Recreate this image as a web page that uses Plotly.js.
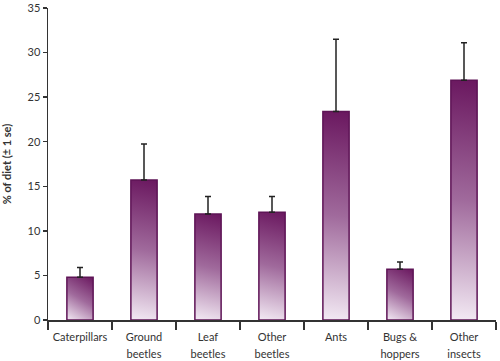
<!DOCTYPE html>
<html>
<head>
<meta charset="utf-8">
<script src="https://cdn.plot.ly/plotly-3.0.1.min.js"></script>
<style>
html,body{margin:0;padding:0;background:#fff;}
#chart{width:500px;height:361px;}
</style>
</head>
<body>
<div id="chart"></div>
<script>
var categories = ["Caterpillars", "Ground<br>beetles", "Leaf<br>beetles", "Other<br>beetles", "Ants", "Bugs &<br>hoppers", "Other<br>insects"];
var dietPercent = [4.8, 15.7, 11.9, 12.1, 23.4, 5.7, 26.9];
var seUpper = [1.1, 4.05, 1.95, 1.75, 8.1, 0.8, 4.2];
var seLower = [0, 0, 0, 0, 0, 0, 0];
var yTickVals = [0, 5, 10, 15, 20, 25, 30, 35];

var font = "Lato, 'Open Sans', sans-serif";

var trace = {
  type: "bar",
  x: categories,
  y: dietPercent,
  width: 0.41,
  marker: {color: "#9c5f96", line: {color: "#5e1456", width: 1.5}},
  error_y: {type: "data", symmetric: false, array: seUpper, arrayminus: seLower,
            color: "#222", thickness: 1.5, width: 3},
  hoverinfo: "none"
};

var layout = {
  width: 500, height: 361,
  margin: {l: 48, r: 4, t: 8, b: 41},
  paper_bgcolor: "#fff", plot_bgcolor: "#fff",
  showlegend: false,
  font: {family: font, size: 11, color: "#333"},
  xaxis: {
    type: "category",
    tickson: "boundaries",
    tickangle: 0,
    ticklabelstandoff: 6,
    ticks: "outside", ticklen: 8, tickwidth: 1.5, tickcolor: "#333",
    showline: true, linecolor: "#333", linewidth: 1.5,
    showgrid: false, zeroline: false,
    tickfont: {family: font, size: 11, color: "#333"},
    range: [-0.5, 6.5]
  },
  yaxis: {
    range: [0, 35],
    tickvals: yTickVals,
    ticktext: yTickVals.map(String),
    ticks: "outside", ticklen: 4, tickwidth: 1.5, tickcolor: "#333",
    showline: true, linecolor: "#333", linewidth: 1.5,
    showgrid: false, zeroline: false,
    tickfont: {family: font, size: 11, color: "#333"},
    title: {text: "% of diet (± 1 se)", font: {family: font, size: 11, color: "#333", weight: "bold"}, standoff: 14}
  }
};

Plotly.newPlot("chart", [trace], layout, {displayModeBar: false, staticPlot: true}).then(function(gd){
  var svg = gd.querySelector("svg.main-svg");
  var ns = "http://www.w3.org/2000/svg";
  var defs = svg.querySelector("defs") || svg.insertBefore(document.createElementNS(ns, "defs"), svg.firstChild);
  gd.querySelectorAll(".bars .point path").forEach(function(p, i){
    var b = p.getBBox();
    var g = document.createElementNS(ns, "linearGradient");
    g.setAttribute("id", "barGrad" + i);
    g.setAttribute("gradientUnits", "userSpaceOnUse");
    g.setAttribute("x1", b.x + b.width); g.setAttribute("y1", b.y);
    g.setAttribute("x2", b.x); g.setAttribute("y2", b.y + b.height);
    [["0", "#6a175f"], ["0.5", "#a06a9c"], ["1", "#f3eaf4"]].forEach(function(s){
      var st = document.createElementNS(ns, "stop");
      st.setAttribute("offset", s[0]); st.setAttribute("stop-color", s[1]);
      g.appendChild(st);
    });
    defs.appendChild(g);
    p.style.fill = "url(#barGrad" + i + ")";
  });
  gd.querySelectorAll(".xtick text tspan.line").forEach(function(t){
    if (t.getAttribute("dy") && t.getAttribute("dy") !== "0em") t.setAttribute("dy", "1.6em");
  });
});
</script>
</body>
</html>
